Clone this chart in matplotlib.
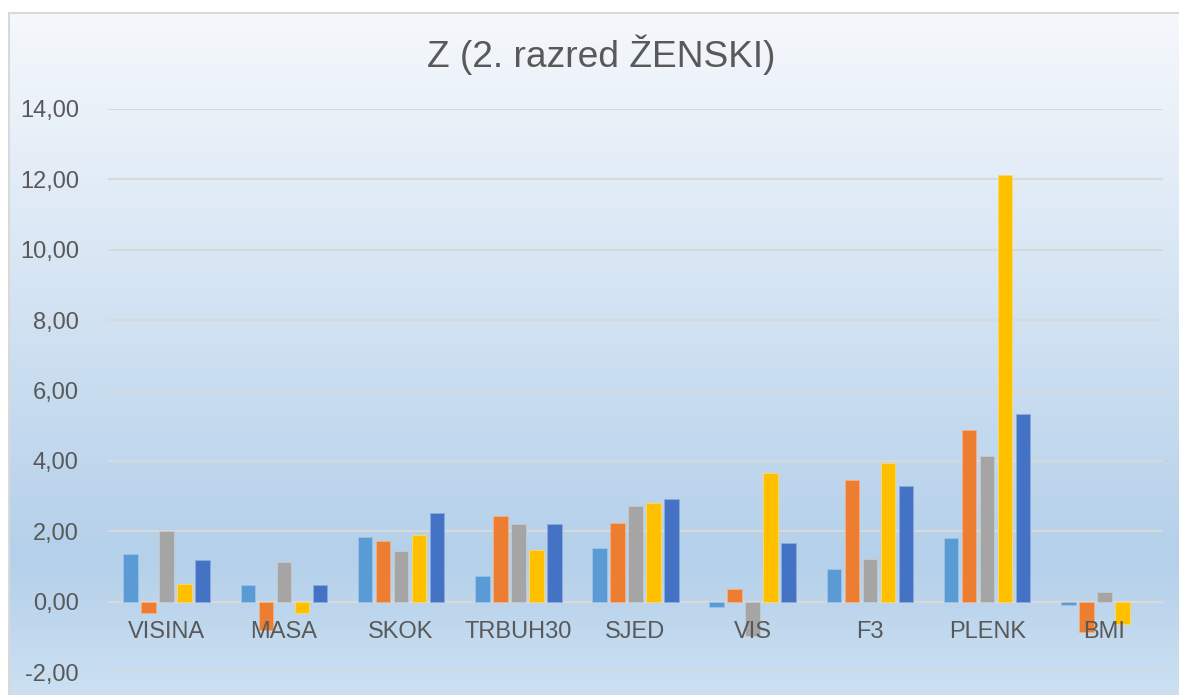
import matplotlib.pyplot as plt
import matplotlib.colors as mcolors
import numpy as np

plt.rcParams['font.family'] = ['Liberation Sans', 'DejaVu Sans']

# podaci
kategorije = ["VISINA", "MASA", "SKOK", "TRBUH30", "SJED", "VIS", "F3", "PLENK", "BMI"]
serija1 = [1.34, 0.48, 1.85, 0.74, 1.51, -0.15, 0.93, 1.82, -0.09]
serija2 = [-0.32, -0.80, 1.73, 2.44, 2.24, 0.35, 3.47, 4.89, -0.86]
serija3 = [2.02, 1.14, 1.45, 2.20, 2.72, -0.97, 1.21, 4.13, 0.28]
serija4 = [0.51, -0.32, 1.90, 1.48, 2.80, 3.66, 3.95, 12.13, -0.64]
serija5 = [1.18, 0.48, 2.51, 2.20, 2.92, 1.66, 3.30, 5.34, 0.00]
naslov = "Z (2. razred ŽENSKI)"
y_ticks = [-2, 0, 2, 4, 6, 8, 10, 12, 14]

boje = ["#5B9BD5", "#ED7D31", "#A5A5A5", "#FFC000", "#4472C4"]
tekst_boja = "#595959"

W, H = 1179, 695
fig = plt.figure(figsize=(W / 100, H / 100), dpi=100)
fig.patch.set_facecolor("white")

# pozadina okvira s gradijentom
bg = fig.add_axes([9 / W, 0, 1 - 9 / W, (H - 13) / H])
stops = [(0.0, "#F5F8FC"), (0.25, "#E2ECF7"), (0.80, "#B4D0EA"), (1.0, "#CCE0F2")]
pos = np.linspace(0, 1, 256)
rgb = np.array([mcolors.to_rgb(c) for _, c in stops])
sp = [s for s, _ in stops]
grad = np.stack([np.interp(pos, sp, rgb[:, i]) for i in range(3)], axis=1)
bg.imshow(grad[:, None, :], aspect="auto", extent=[0, 1, 1, 0])
bg.set_xlim(0, 1)
bg.set_ylim(1, 0)
bg.set_xticks([])
bg.set_yticks([])
for s in ["right", "bottom"]:
    bg.spines[s].set_visible(False)
for s in ["top", "left"]:
    bg.spines[s].set_color("#D9D9D9")
    bg.spines[s].set_linewidth(1.5)

# glavni graf
ax = fig.add_axes([108 / W, (H - 672) / H, (1163 - 108) / W, (672 - 109) / H])
ax.patch.set_alpha(0)

x = np.arange(len(kategorije))
korak = 0.1536
sirina = 0.124
serije = [serija1, serija2, serija3, serija4, serija5]
for i, (vals, c) in enumerate(zip(serije, boje)):
    rub = mcolors.to_hex(np.array(mcolors.to_rgb(c)) * 0.6 + 0.4)
    rubovi = [rub if v != 0 else "none" for v in vals]
    ax.bar(x + (i - 2) * korak, vals, width=sirina, color=c,
           edgecolor=rubovi, linewidth=0.6, zorder=3)

ax.set_xlim(-0.5, len(kategorije) - 0.5)
ax.set_ylim(-2, 14)
ax.set_yticks(y_ticks)
ax.set_yticklabels([f"{v:.2f}".replace(".", ",") for v in y_ticks],
                   fontsize=17, color=tekst_boja)
ax.tick_params(axis="y", length=0, pad=21)
ax.set_xticks([])
ax.grid(axis="y", color="#D9D9D9", linewidth=1.5, zorder=0)
for s in ax.spines.values():
    s.set_visible(False)
ax.axhline(0, color="#D9D9D9", linewidth=1.5, zorder=2)

for xi, lab in zip(x, kategorije):
    ax.annotate(lab, (xi, 0), xytext=(0, -26), textcoords="offset points",
                ha="center", va="baseline", fontsize=17, color=tekst_boja, zorder=4)

fig.text(601 / W, 1 - 55 / H, naslov, ha="center", va="center",
         fontsize=26.7, color=tekst_boja)

fig.savefig("out.png", dpi=100)
